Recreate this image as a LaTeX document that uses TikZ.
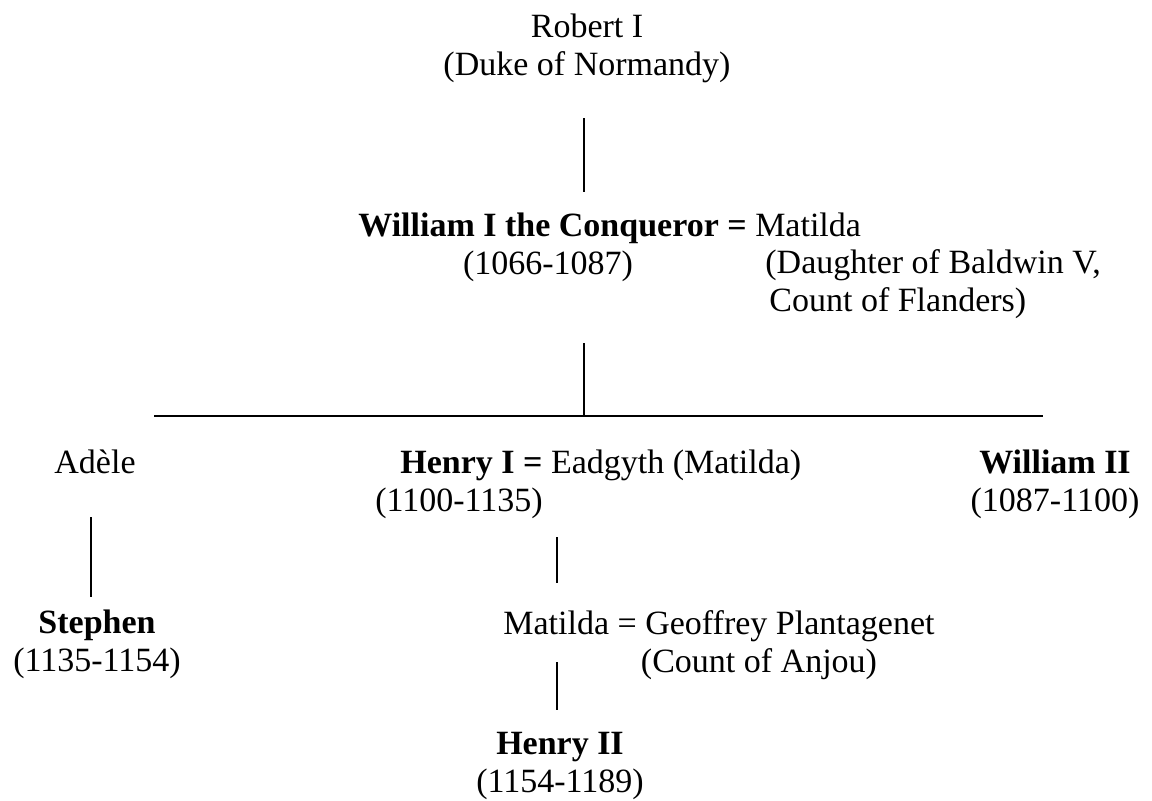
\documentclass[tikz,border=0pt]{standalone}
\usepackage{fontspec}
\setmainfont{Liberation Serif}

\begin{document}
\begin{tikzpicture}[x=0.5pt, y=-0.5pt,
    person/.style={inner sep=0pt, align=center, anchor=base, font=\fontsize{17}{18.8}\selectfont},
    couple/.style={person, anchor=base west, align=left},
    link/.style={black, line width=0.75pt}]
        \useasboundingbox (0,0) rectangle (1152,800);
        % two-line nodes sit on the baseline of their last line
        \node[person] (robert) at (587,75) {Robert I\\(Duke of Normandy)};
        \node[couple] (william) at (358,236) {\textbf{William I the Conqueror =} Matilda};
        \node[person] (williamdates) at (548,274) {(1066-1087)};
        \node[couple] (matilda) at (765,311) {(Daughter of Baldwin V,\\\hspace*{2pt}Count of Flanders)};
        \node[person] (adele) at (95,473) {Ad\`ele};
        \node[couple] (henry) at (400,473) {\textbf{Henry I =} Eadgyth (Matilda)};
        \node[person] (henrydates) at (459,511) {(1100-1135)};
        \node[person] (williamII) at (1055,511) {\textbf{William II}\\(1087-1100)};
        \node[person] (stephen) at (97,671) {\textbf{Stephen}\\(1135-1154)};
        \node[couple] (empress) at (503,634) {Matilda = Geoffrey Plantagenet};
        \node[person] (geoffrey) at (759,672) {(Count of Anjou)};
        \node[person] (henryII) at (560,792) {\textbf{Henry II}\\(1154-1189)};
        % line ends
        \coordinate (r1) at (584,118);
        \coordinate (r2) at (584,192);
        \coordinate (w1) at (584,343);
        \coordinate (w2) at (584,416);
        \coordinate (left) at (154,416);
        \coordinate (right) at (1043,416);
        \coordinate (a1) at (91,517);
        \coordinate (a2) at (91,597);
        \coordinate (h1) at (557,537);
        \coordinate (h2) at (557,583);
        \coordinate (m1) at (557,662);
        \coordinate (m2) at (557,710);
        \draw[link] (r1) -- (r2);
        \draw[link] (w1) -- (w2);
        \draw[link] (left) -- (right);
        \draw[link] (a1) -- (a2);
        \draw[link] (h1) -- (h2);
        \draw[link] (m1) -- (m2);
\end{tikzpicture}
\end{document}
